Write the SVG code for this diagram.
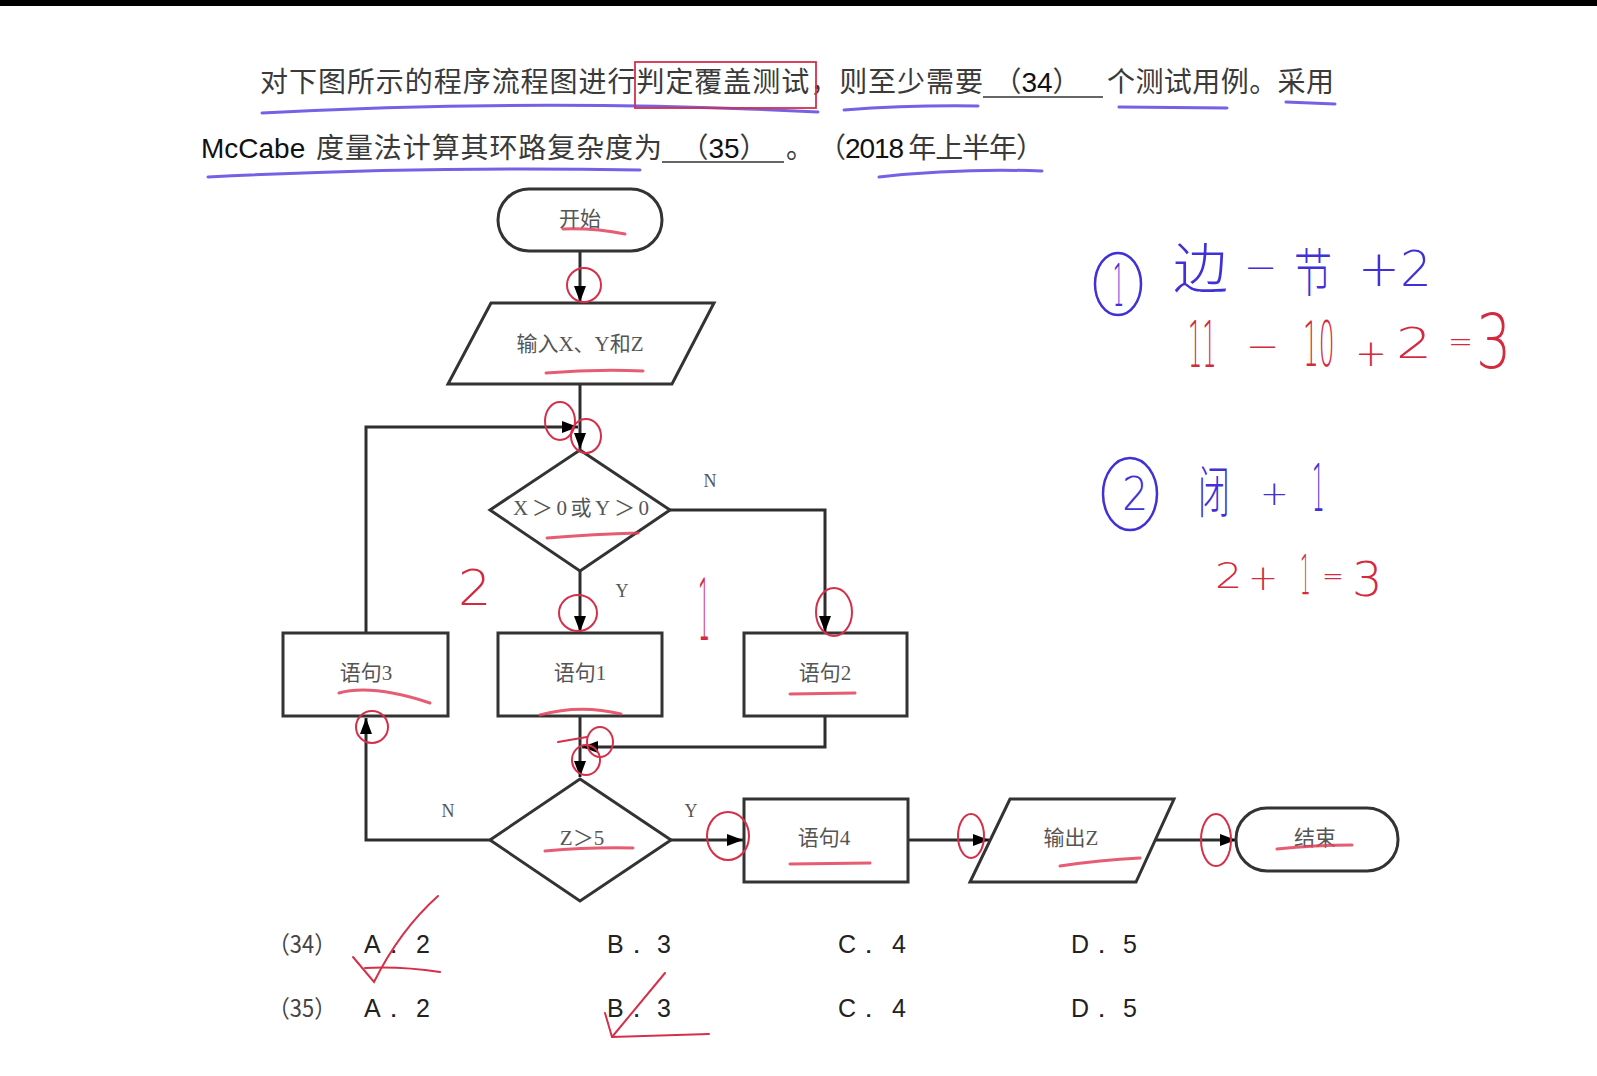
<svg xmlns="http://www.w3.org/2000/svg" width="1597" height="1076" viewBox="0 0 1597 1076">
<defs>
<style>
.cn{font-family:"Noto Sans CJK SC","Liberation Serif",sans-serif;font-size:28px;fill:#3a3a3a}
.ln{font-family:"Liberation Sans","Noto Sans CJK SC",sans-serif;fill:#111}
.shape{fill:#fff;stroke:#333;stroke-width:3}
.lbl{font-family:"Liberation Serif","Noto Sans CJK SC",serif;font-size:21px;fill:#555;text-anchor:middle;dominant-baseline:central}
.yn{font-family:"Liberation Serif",serif;font-size:18px;fill:#555;text-anchor:middle;dominant-baseline:central}
.conn{fill:none;stroke:#2e2e2e;stroke-width:3}
.opt{font-family:"Liberation Sans",sans-serif;font-size:25px;fill:#222}
.optn{font-family:"Noto Sans CJK SC",sans-serif;font-size:24px;fill:#444}
.ul{stroke:#333;stroke-width:1.6}
.rc{fill:none;stroke:#d5304a;stroke-width:2;stroke-linecap:round}
.ru{fill:none;stroke:#e0405a;stroke-width:3;stroke-linecap:round;opacity:.85}
.bu{fill:none;stroke:#5a46e0;stroke-width:3;stroke-linecap:round;opacity:.85}
.bc{fill:none;stroke:#4030d8;stroke-width:2.5}
.hb{font-family:"DejaVu Sans","Noto Sans CJK SC",sans-serif;font-weight:200;fill:#4030d8}
.hr{font-family:"DejaVu Sans","Noto Sans CJK SC",sans-serif;font-weight:200;fill:#d42a40}
</style>
<marker id="ah" markerUnits="userSpaceOnUse" markerWidth="16" markerHeight="12" refX="16" refY="6" orient="auto" viewBox="0 0 16 12"><path d="M0,0 L16,6 L0,12 z" fill="#000"/></marker>
</defs>
<rect x="0" y="0" width="1597" height="1076" fill="#fff"/>
<rect x="0" y="0" width="1597" height="6" fill="#000"/>

<g id="question">
<text class="cn" x="260" y="92" textLength="723" lengthAdjust="spacing">对下图所示的程序流程图进行判定覆盖测试，则至少需要</text>
<line class="ul" x1="983" y1="97" x2="1103" y2="97"/>
<text class="cn" x="1037" y="92" text-anchor="middle">（<tspan class="ln">34</tspan>）</text>
<text class="cn" x="1107" y="92" textLength="227" lengthAdjust="spacing">个测试用例。采用</text>
<text class="ln" x="201" y="158" font-size="28">McCabe</text>
<text class="cn" x="316" y="158" textLength="346" lengthAdjust="spacing">度量法计算其环路复杂度为</text>
<line class="ul" x1="662" y1="162" x2="784" y2="162"/>
<text class="cn" x="724" y="158" text-anchor="middle">（<tspan class="ln">35</tspan>）</text>
<text class="cn" x="786" y="158">。</text>
<text class="cn" x="818" y="158" textLength="226" lengthAdjust="spacing">（<tspan class="ln">2018</tspan> 年上半年）</text>
</g>

<g id="connectors">
<path class="conn" d="M580,251 V302" marker-end="url(#ah)"/>
<path class="conn" d="M580,384 V449" marker-end="url(#ah)"/>
<path class="conn" d="M366,633 V427 H578" marker-end="url(#ah)"/>
<path class="conn" d="M580,570 V632" marker-end="url(#ah)"/>
<path class="conn" d="M670,510 H825 V632" marker-end="url(#ah)"/>
<path class="conn" d="M580,716 V777" marker-end="url(#ah)"/>
<path class="conn" d="M825,716 V747 H582" marker-end="url(#ah)"/>
<path class="conn" d="M490,840 H366 V718" marker-end="url(#ah)"/>
<path class="conn" d="M671,840 H743" marker-end="url(#ah)"/>
<path class="conn" d="M908,840 H989" marker-end="url(#ah)"/>
<path class="conn" d="M1156,840 H1236" marker-end="url(#ah)"/>
<text class="yn" x="710" y="481">N</text>
<text class="yn" x="622" y="591">Y</text>
<text class="yn" x="448" y="811">N</text>
<text class="yn" x="691" y="811">Y</text>
</g>

<g id="start"><rect class="shape" x="498" y="189" width="164" height="62" rx="31"/><text class="lbl" x="580" y="219">开始</text></g>
<g id="input"><polygon class="shape" points="491,303 714,303 672,384 448,384"/><text class="lbl" x="580" y="344">输入X、Y和Z</text></g>
<g id="cond1"><polygon class="shape" points="580,450 670,510 580,571 490,510"/><text class="lbl" x="581" y="508" textLength="136" lengthAdjust="spacing">X＞0或Y＞0</text></g>
<g id="stmt3"><rect class="shape" x="283" y="633" width="165" height="83"/><text class="lbl" x="366" y="673">语句3</text></g>
<g id="stmt1"><rect class="shape" x="498" y="633" width="164" height="83"/><text class="lbl" x="580" y="673">语句1</text></g>
<g id="stmt2"><rect class="shape" x="744" y="633" width="163" height="83"/><text class="lbl" x="825" y="673">语句2</text></g>
<g id="cond2"><polygon class="shape" points="580,779 671,840 580,901 490,840"/><text class="lbl" x="582" y="838">Z＞5</text></g>
<g id="stmt4"><rect class="shape" x="744" y="799" width="164" height="83"/><text class="lbl" x="824" y="838">语句4</text></g>
<g id="output"><polygon class="shape" points="1010,799 1174,799 1136,882 970,882"/><text class="lbl" x="1071" y="838">输出Z</text></g>
<g id="end"><rect class="shape" x="1236" y="808" width="162" height="63" rx="31"/><text class="lbl" x="1315" y="838">结束</text></g>

<g id="options">
<text class="optn" x="268" y="953" textLength="68" lengthAdjust="spacingAndGlyphs">（34）</text>
<text class="opt" x="364" y="953">A．</text><text class="opt" x="416" y="953">2</text>
<text class="opt" x="607" y="953">B．</text><text class="opt" x="657" y="953">3</text>
<text class="opt" x="838" y="953">C．</text><text class="opt" x="892" y="953">4</text>
<text class="opt" x="1071" y="953">D．</text><text class="opt" x="1123" y="953">5</text>
<text class="optn" x="268" y="1017" textLength="68" lengthAdjust="spacingAndGlyphs">（35）</text>
<text class="opt" x="364" y="1017">A．</text><text class="opt" x="416" y="1017">2</text>
<text class="opt" x="607" y="1017">B．</text><text class="opt" x="657" y="1017">3</text>
<text class="opt" x="838" y="1017">C．</text><text class="opt" x="892" y="1017">4</text>
<text class="opt" x="1071" y="1017">D．</text><text class="opt" x="1123" y="1017">5</text>
</g>

<g id="annotations">
<path class="bu" d="M262,113 Q540,98 818,112"/>
<path class="bu" d="M844,110 Q910,105 978,106"/>
<path class="bu" d="M1119,107 L1227,108"/>
<path class="bu" d="M1286,102 L1335,104"/>
<path class="bu" d="M208,177 Q420,166 640,170"/>
<path class="bu" d="M879,177 Q960,168 1042,171"/>
<rect x="635" y="62" width="181" height="46" fill="none" stroke="#d5304a" stroke-width="1.8"/>

<path class="ru" d="M563,229 Q595,228 625,234"/>
<path class="ru" d="M546,373 Q595,369 643,371"/>
<path class="ru" d="M547,538 Q595,534 638,533"/>
<path class="ru" d="M339,693 Q372,684 430,703"/>
<path class="ru" d="M540,715 Q580,704 621,714"/>
<path class="ru" d="M790,694 L855,693"/>
<path class="ru" d="M545,851 Q590,847 633,848"/>
<path class="ru" d="M790,864 L870,863"/>
<path class="ru" d="M1060,866 Q1100,860 1140,858"/>
<path class="ru" d="M1277,849 Q1315,845 1352,845"/>

<ellipse class="rc" cx="584" cy="285" rx="17" ry="17"/>
<ellipse class="rc" cx="560" cy="421" rx="15" ry="19"/>
<ellipse class="rc" cx="586" cy="436" rx="15" ry="17"/>
<ellipse class="rc" cx="578" cy="613" rx="19" ry="18"/>
<ellipse class="rc" cx="834" cy="612" rx="18" ry="24"/>
<ellipse class="rc" cx="372" cy="727" rx="16" ry="16"/>
<ellipse class="rc" cx="600" cy="742" rx="13" ry="15"/>
<ellipse class="rc" cx="586" cy="760" rx="14" ry="15"/>
<path class="rc" d="M558,742 L587,737"/>
<ellipse class="rc" cx="728" cy="836" rx="21" ry="24"/>
<ellipse class="rc" cx="971" cy="836" rx="13" ry="22"/>
<ellipse class="rc" cx="1216" cy="840" rx="15" ry="26"/>

<path class="rc" d="M353,957 L374,982 Q400,930 438,896" stroke-width="2.5"/>
<path class="rc" d="M365,968 Q400,966 440,972" stroke-width="3"/>
<path class="rc" d="M665,973 L612,1037" stroke-width="2.5"/>
<path class="rc" d="M605,1013 L612,1037 L709,1034" stroke-width="3"/>

<text class="hr" font-size="50" transform="translate(458,605) scale(1.05,1)">2</text>
<text class="hr" font-size="86" transform="translate(698,640) scale(0.22,1)">1</text>

<ellipse class="bc" cx="1118" cy="284" rx="23" ry="31"/>
<text class="hb" font-size="58" transform="translate(1113,306) scale(0.3,1)">1</text>
<text class="hb" x="1173" y="288" font-size="55">边</text>
<text class="hb" x="1244" y="281" font-size="40">−</text>
<text class="hb" font-size="52" transform="translate(1294,292) scale(0.73,1)">节</text>
<text class="hb" x="1358" y="286" font-size="50">+2</text>

<text class="hr" font-size="64" transform="translate(1188,367) scale(0.35,1)">11</text>
<text class="hr" x="1246" y="360" font-size="40">−</text>
<text class="hr" font-size="62" transform="translate(1303,366) scale(0.4,1)">10</text>
<text class="hr" x="1355" y="366" font-size="38">+</text>
<text class="hr" font-size="42" transform="translate(1396,358) scale(1.35,1)">2</text>
<text class="hr" x="1448" y="352" font-size="30">=</text>
<text class="hr" font-size="74" transform="translate(1476,368) scale(0.75,1)">3</text>

<ellipse class="bc" cx="1130" cy="494" rx="27" ry="36"/>
<text class="hb" font-size="46" transform="translate(1122,510) scale(0.9,1)">2</text>
<text class="hb" font-size="56" transform="translate(1198,512) scale(0.57,1)">闭</text>
<text class="hb" x="1260" y="505" font-size="34">+</text>
<text class="hb" font-size="66" transform="translate(1312,511) scale(0.3,1)">1</text>

<text class="hr" font-size="36" transform="translate(1215,588) scale(1.2,1)">2</text>
<text class="hr" x="1248" y="590" font-size="36">+</text>
<text class="hr" font-size="55" transform="translate(1300,594) scale(0.3,1)">1</text>
<text class="hr" x="1322" y="585" font-size="26">=</text>
<text class="hr" x="1352" y="596" font-size="48">3</text>
</g>
</svg>
